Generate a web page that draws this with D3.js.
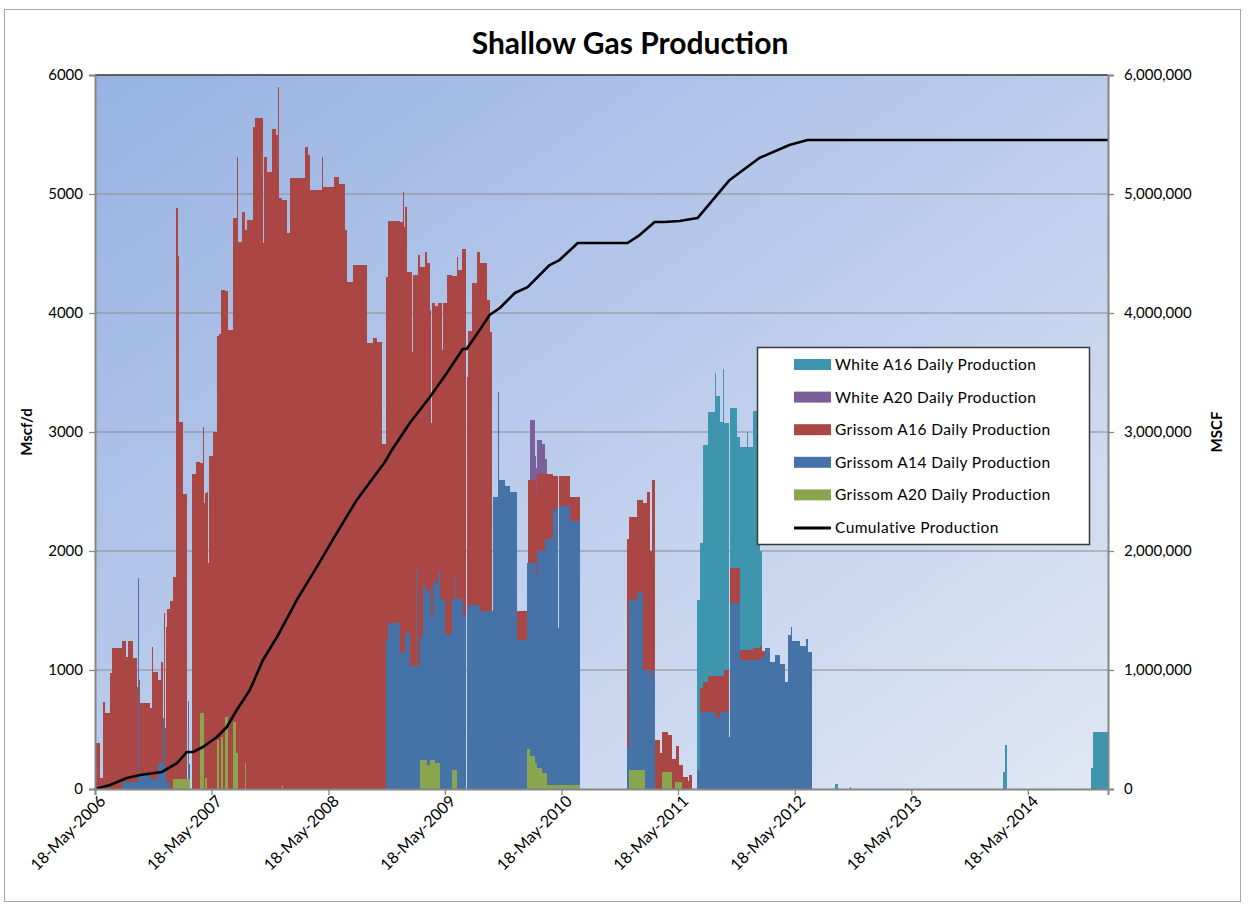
<!DOCTYPE html>
<html><head><meta charset="utf-8">
<script src="https://cdn.jsdelivr.net/npm/d3@7"></script>
<style>
body{margin:0;background:#fff;}
text{font-family:Lato,"Open Sans",sans-serif;fill:#000;}
</style>
</head><body>
<svg id="c" width="1248" height="907"></svg>
<script>
// ---------------- data ----------------
const startDate = "2006-05-18";
const endDay = 3173;                 // days after startDate where the date axis ends
const xTickLabels = ["18-May-2006","18-May-2007","18-May-2008","18-May-2009","18-May-2010","18-May-2011","18-May-2012","18-May-2013","18-May-2014"];
const leftTicks = [0,1000,2000,3000,4000,5000,6000];
const rightTicks = [0,1000000,2000000,3000000,4000000,5000000,6000000];
const seriesNames = ["White A16 Daily Production","White A20 Daily Production","Grissom A16 Daily Production","Grissom A14 Daily Production","Grissom A20 Daily Production","Cumulative Production"];

// daily rates, Mscf/d, as [day after startDate, value held until next entry]
const grissomA20 = [[0,0],[244,80],[298,0],[329,640],[341,0],[345,90],[351,0],[382,410],[388,0],[395,440],[401,0],[407,605],[417,0],[432,560],[442,300],[448,0],[470,220],[473,0],[586,30],[589,0],[1018,245],[1040,200],[1050,245],[1065,220],[1081,0],[1118,160],[1134,0],[1353,340],[1363,280],[1378,220],[1385,180],[1400,135],[1416,30],[1519,0],[1673,160],[1723,0],[1776,145],[1807,0],[1817,60],[1839,0]];

const grissomA14 = [[0,0],[85,60],[135,1770],[138,120],[172,80],[197,215],[213,600],[216,180],[219,510],[222,60],[235,0],[290,660],[293,130],[298,0],[912,1250],[918,1395],[955,1140],[971,1310],[987,1030],[1005,1840],[1008,1030],[1027,1450],[1053,1200],[1059,1500],[1074,1600],[1096,1300],[1118,1440],[1127,1620],[1130,1440],[1134,1600],[1153,1450],[1162,0],[1165,1550],[1206,1500],[1244,1500],[1247,2450],[1261,3340],[1264,2600],[1284,2550],[1300,2500],[1322,1250],[1353,1560],[1363,1620],[1378,1680],[1381,1580],[1385,1820],[1400,1865],[1410,1965],[1416,2070],[1435,2320],[1449,1320],[1452,2350],[1488,2220],[1519,0],[1666,350],[1673,1430],[1698,1490],[1717,840],[1723,1000],[1738,950],[1745,1000],[1754,0],[1886,160],[1895,650],[1945,600],[1958,650],[1986,440],[1989,1560],[2020,1085],[2083,1100],[2089,1110],[2099,1185],[2114,1070],[2130,1130],[2146,1050],[2161,900],[2171,1295],[2180,1365],[2183,1240],[2208,1200],[2227,1260],[2233,1150],[2246,0]];

const grissomA16 = [[0,390],[16,90],[25,730],[31,640],[47,975],[53,1185],[97,1050],[103,1180],[119,1040],[132,800],[135,0],[138,800],[141,600],[179,1110],[182,900],[197,700],[207,850],[213,0],[216,1300],[219,0],[222,1300],[226,1450],[235,1580],[244,1700],[254,4800],[260,4400],[263,3000],[276,2400],[288,0],[304,2650],[316,2750],[329,2100],[338,2400],[351,2500],[353,1900],[356,2800],[370,3000],[382,3400],[388,3820],[395,3750],[401,4190],[407,3580],[417,3855],[432,4240],[442,4500],[444,5010],[447,4600],[460,4850],[470,4480],[473,4700],[476,4780],[495,5565],[501,5640],[525,4590],[528,5310],[539,5185],[554,5550],[566,5500],[572,5900],[576,4970],[586,4920],[589,4950],[601,4670],[611,5135],[658,5395],[666,5330],[672,3000],[675,5035],[711,5310],[715,5060],[750,5140],[764,5080],[783,4700],[789,4260],[808,4400],[852,3750],[871,3790],[883,3760],[899,2900],[912,3050],[918,3375],[955,3625],[964,3880],[968,3580],[977,3035],[987,3315],[992,2640],[995,3290],[1005,2480],[1008,3290],[1012,3460],[1018,3115],[1027,2695],[1034,2815],[1040,2770],[1049,2330],[1052,1630],[1055,2635],[1059,2335],[1074,2260],[1081,2480],[1087,2090],[1091,2480],[1096,2780],[1103,3020],[1118,2710],[1127,2530],[1130,2710],[1134,2870],[1137,2760],[1150,2940],[1153,3090],[1162,0],[1165,1910],[1169,2300],[1181,2700],[1197,2960],[1206,2920],[1228,2610],[1237,2340],[1244,0],[1322,250],[1353,0],[1356,700],[1385,650],[1410,550],[1435,280],[1449,0],[1452,250],[1488,200],[1519,0],[1666,1750],[1673,695],[1698,780],[1717,1400],[1729,1500],[1738,1050],[1745,1600],[1754,410],[1770,300],[1776,335],[1795,305],[1807,250],[1817,190],[1820,300],[1829,140],[1839,200],[1842,100],[1856,70],[1862,120],[1870,0],[1895,200],[1905,250],[1920,300],[1945,350],[1958,300],[1970,350],[1986,0],[1989,300],[2020,85],[2061,100],[2089,50],[2099,0]];

const whiteA20 = [[0,0],[1363,500],[1378,200],[1385,280],[1400,250],[1410,120],[1416,0]];

const whiteA16 = [[0,0],[1886,1430],[1895,1220],[1905,1990],[1920,2220],[1942,2550],[1945,2350],[1958,2135],[1967,2580],[1970,2075],[1986,0],[1989,1340],[2011,1100],[2020,1700],[2042,1830],[2045,1705],[2061,1995],[2083,800],[2089,0],[2318,40],[2327,0],[2365,15],[2368,0],[2844,145],[2851,370],[2857,0],[3120,175],[3126,480]];

// cumulative production, MSCF, [day after startDate, value]
const cumulative = [[0,0],[47,34000],[100,92000],[141,118000],[210,143000],[257,218000],[288,311000],[307,311000],[338,353000],[382,437000],[413,521000],[444,664000],[485,832000],[526,1084000],[570,1277000],[632,1588000],[695,1866000],[757,2151000],[820,2429000],[908,2748000],[930,2849000],[986,3076000],[1049,3294000],[1102,3496000],[1152,3697000],[1164,3697000],[1205,3857000],[1236,3983000],[1268,4042000],[1315,4168000],[1355,4218000],[1424,4403000],[1455,4445000],[1512,4588000],[1668,4588000],[1706,4655000],[1753,4765000],[1784,4765000],[1831,4773000],[1887,4798000],[1909,4866000],[1988,5118000],[2081,5303000],[2175,5412000],[2232,5454000],[3173,5454000]];

const colors = {w16:"#3D96AE", w20:"#7A5F99", g16:"#AA4643", g14:"#4572A7", g20:"#89A54E"};

// ---------------- chart ----------------
const svg = d3.select("#c");
const t0 = d3.timeParse("%Y-%m-%d")(startDate);
const dayToDate = d => d3.timeDay.offset(t0, d);
const L = 95, R = 1108, T = 75, B = 789;
const x = d3.scaleTime().domain([t0, dayToDate(endDay)]).range([L, R]);
const yL = d3.scaleLinear().domain([0, 6000]).range([B, T]);
const yR = d3.scaleLinear().domain([0, 6000000]).range([B, T]);

const defs = svg.append("defs");
const grad = defs.append("linearGradient").attr("id","bg").attr("x1","0").attr("y1","0").attr("x2","1").attr("y2","1");
grad.append("stop").attr("offset","0").attr("stop-color","#97b2e2");
grad.append("stop").attr("offset","1").attr("stop-color","#e0e7f4");
defs.append("clipPath").attr("id","clip").append("rect").attr("x",L).attr("y",T).attr("width",R-L).attr("height",B-T);

// outer frame
svg.append("rect").attr("x",4.5).attr("y",9.5).attr("width",1236).attr("height",892)
  .attr("fill","#fff").attr("stroke","#a6a6a6").attr("stroke-width",1);

// title
svg.append("text").attr("x",630).attr("y",54).attr("text-anchor","middle")
  .attr("font-size",30).attr("font-weight","bold").text("Shallow Gas Production");

// plot background
svg.append("rect").attr("x",L).attr("y",T).attr("width",R-L).attr("height",B-T).attr("fill","url(#bg)");

// gridlines
svg.append("g").selectAll("line").data(leftTicks.filter(v=>v>0)).join("line")
  .attr("x1",L).attr("x2",R).attr("y1",d=>yL(d)).attr("y2",d=>yL(d))
  .attr("stroke","#8c8c8c").attr("stroke-width",1.2);

// build daily table
function stepAt(arr, day){
  let v = 0;
  for (const [d,val] of arr){ if (d <= day) v = val; else break; }
  return v;
}
const rows = d3.range(0, endDay+1).map(day => ({
  day,
  g20: stepAt(grissomA20, day),
  g14: stepAt(grissomA14, day),
  g16: stepAt(grissomA16, day),
  w20: stepAt(whiteA20, day),
  w16: stepAt(whiteA16, day)
}));
const keys = ["g20","g14","g16","w20","w16"];
const stacked = d3.stack().keys(keys)(rows);
const area = d3.area()
  .x(d => x(dayToDate(d.data.day)))
  .y0(d => yL(d[0])).y1(d => yL(d[1]))
  .curve(d3.curveStepAfter);
svg.append("g").attr("clip-path","url(#clip)").selectAll("path").data(stacked).join("path")
  .attr("d", area).attr("fill", d => colors[d.key]).attr("shape-rendering","crispEdges");

// top border
svg.append("line").attr("x1",L).attr("x2",R).attr("y1",T).attr("y2",T).attr("stroke","#404040").attr("stroke-width",1.5);

// cumulative line
const line = d3.line().x(d => x(dayToDate(d[0]))).y(d => yR(d[1]));
svg.append("path").datum(cumulative).attr("d", line).attr("fill","none")
  .attr("stroke","#000").attr("stroke-width",2.6).attr("stroke-linejoin","round");

// axes
const axisColor = "#868686";
const gl = svg.append("g").attr("transform",`translate(${L},0)`)
  .call(d3.axisLeft(yL).tickValues(leftTicks).tickFormat(d3.format("d")).tickSize(6).tickPadding(6));
const gr = svg.append("g").attr("transform",`translate(${R},0)`)
  .call(d3.axisRight(yR).tickValues(rightTicks).tickFormat(d3.format(",")).tickSize(6).tickPadding(10));
const xTickDates = xTickLabels.map(s => d3.timeParse("%d-%b-%Y")(s));
const gb = svg.append("g").attr("transform",`translate(0,${B})`)
  .call(d3.axisBottom(x).tickValues(xTickDates).tickFormat((d,i)=>xTickLabels[i]).tickSize(6).tickPadding(4));
[gl,gr,gb].forEach(g=>{
  g.select(".domain").attr("stroke",axisColor).attr("stroke-width",2);
  g.selectAll(".tick line").attr("stroke",axisColor).attr("stroke-width",1.3);
  g.selectAll("text").attr("font-size",15).attr("font-family","Lato, 'Open Sans', sans-serif").attr("fill","#000");
});
gb.selectAll(".tick text").attr("text-anchor","end").attr("dx",0).attr("dy",0).attr("font-size",16)
  .attr("transform","translate(4,6) rotate(-45)");

// axis titles
svg.append("text").attr("transform","translate(32,432) rotate(-90)").attr("text-anchor","middle")
  .attr("font-size",15).attr("font-weight","bold").text("Mscf/d");
svg.append("text").attr("transform","translate(1222,432) rotate(-90)").attr("text-anchor","middle")
  .attr("font-size",15).attr("font-weight","bold").text("MSCF");

// legend
const lg = svg.append("g");
lg.append("rect").attr("x",757.5).attr("y",347.5).attr("width",332).attr("height",197)
  .attr("fill","#fff").attr("stroke","#3a3a3a").attr("stroke-width",1.5);
const legendColors = [colors.w16, colors.w20, colors.g16, colors.g14, colors.g20, null];
seriesNames.forEach((name,i)=>{
  const cy = 365 + i*32.6;
  if (legendColors[i]) {
    lg.append("rect").attr("x",794).attr("y",cy-6).attr("width",37).attr("height",11).attr("fill",legendColors[i]);
  } else {
    lg.append("line").attr("x1",794).attr("x2",831).attr("y1",cy).attr("y2",cy).attr("stroke","#000").attr("stroke-width",3);
  }
  lg.append("text").attr("x",835).attr("y",cy+5).attr("font-size",15.5).attr("letter-spacing",0.4).text(name);
});
</script>
</body></html>
